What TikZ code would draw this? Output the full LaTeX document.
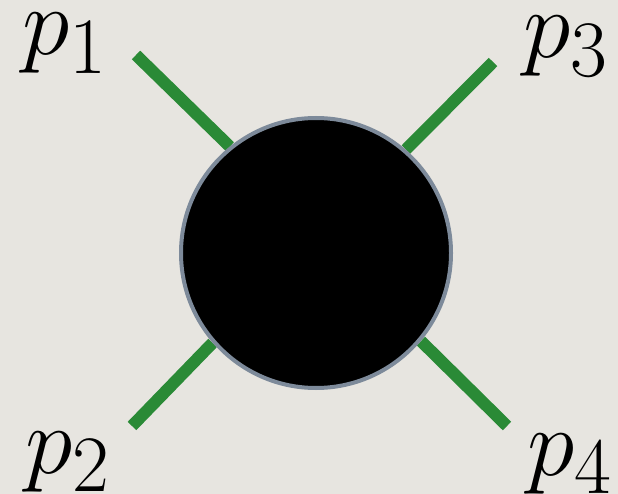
\documentclass[tikz,border=0pt]{standalone}
\usepackage{graphicx}
\usepackage{tikz}
\usetikzlibrary{positioning,calc}

\definecolor{paper}{HTML}{E7E5E0}
\definecolor{leggreen}{HTML}{2A8A36}
\definecolor{rimgray}{HTML}{7D8A9A}

\newcommand{\bigmom}[1]{\scalebox{3.86}{$p_{#1}$}}

\pgfdeclarelayer{paperlayer}
\pgfdeclarelayer{leglayer}
\pgfsetlayers{paperlayer,leglayer,main}

\begin{document}
\begin{tikzpicture}[x=1pt,y=-1pt,
    leg/.style={line width=12pt,leggreen},
    mom/.style={anchor=base west,inner sep=0pt,font=\fontsize{24.88}{30}\selectfont}]
  \begin{pgfonlayer}{paperlayer}
    \fill[paper] (0,0) rectangle (618,494);
  \end{pgfonlayer}
  \useasboundingbox (0,0) rectangle (618,494);
  \node[circle,fill=black,draw=rimgray,line width=4pt,minimum size=270pt,inner sep=0pt] (blob) at (316,253) {};
  \coordinate (e1) at (136,55);
  \coordinate (e2) at (132,426);
  \coordinate (e3) at (493,62);
  \coordinate (e4) at (507,426);
  \begin{pgfonlayer}{leglayer}
    \draw[leg] (blob.129.3) -- (e1);
    \draw[leg] (blob.221.8) -- (e2);
    \draw[leg] (blob.49.4) -- (e3);
    \draw[leg] (blob.320.6) -- (e4);
  \end{pgfonlayer}
  \node[mom] (p1) at (22,55) {\bigmom{1}};
  \node[mom] (p2) at (25,473) {\bigmom{2}};
  \node[mom] (p3) at (523,58) {\bigmom{3}};
  \node[mom] (p4) at (527,475) {\bigmom{4}};
\end{tikzpicture}
\end{document}
